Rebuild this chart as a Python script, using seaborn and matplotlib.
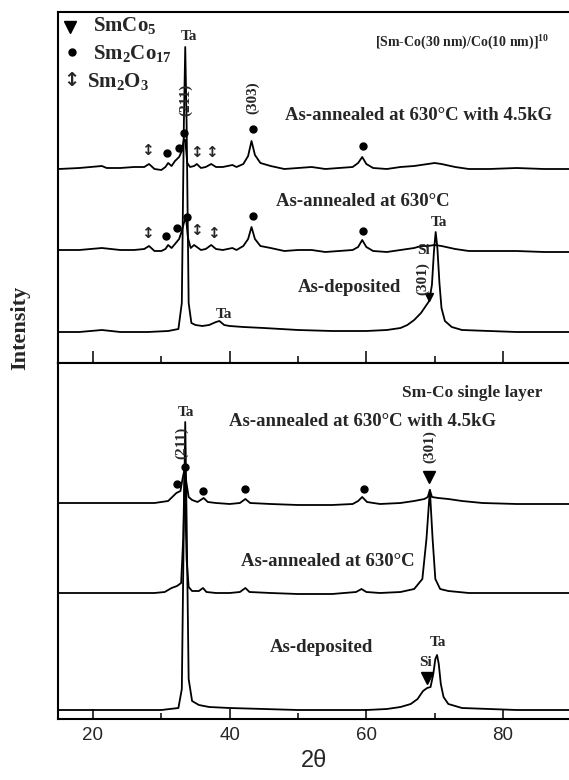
import numpy as np
import pandas as pd
import matplotlib
matplotlib.use("Agg")
import matplotlib.pyplot as plt
import seaborn as sns

# ---------------- data ----------------
# Top panel: [Sm-Co(30 nm)/Co(10 nm)]10 multilayer
ml_mag_theta = [15, 18, 21.3, 22, 24, 26, 27.5, 28.2, 29, 30, 30.6, 31.0, 31.5, 32.0, 32.6, 33.0, 33.3,
                33.5, 33.8, 34.2, 34.8, 35.2, 35.8, 36.5, 37.3, 38.0, 39, 40.4, 41, 42, 42.7, 43.2, 43.7,
                44.5, 46, 48, 50, 52, 54, 56, 58, 58.8, 59.4, 60.0, 61, 63, 65, 67, 69, 70, 71, 73, 75,
                78, 82, 86, 90]
ml_mag_int = [194, 195, 197, 195, 195, 196, 196, 199, 194, 193, 196, 200, 197, 202, 206, 212, 224,
              223, 200, 196, 197, 199, 195, 196, 199, 196, 196, 198, 196, 199, 207, 222, 208,
              200, 197, 194, 195, 196, 194, 195, 196, 200, 206, 199, 195, 194, 196, 197, 199, 200, 199, 196, 194,
              194, 195, 194, 194]

ml_ann_theta = [15, 18, 21.3, 24, 26, 27.5, 28.2, 29, 30, 30.6, 31.0, 31.5, 32.0, 32.6, 33.0, 33.3, 33.6,
                33.9, 34.3, 34.8, 35.2, 35.8, 36.5, 37.3, 38.0, 39, 40.4, 41, 42, 42.7, 43.2, 43.7, 44.5,
                46, 48, 50, 52, 54, 56, 58, 58.8, 59.4, 60.0, 61, 63, 65, 67, 68, 69, 70, 71, 73, 75, 78,
                82, 86, 90]
ml_ann_int = [113, 113, 115, 113, 113, 114, 117, 112, 112, 114, 118, 115, 119, 124, 132, 140, 146,
              125, 115, 118, 116, 113, 114, 118, 114, 113, 115, 113, 117, 124, 136, 124, 117,
              115, 112, 113, 113, 111, 112, 113, 116, 123, 116, 112, 111, 113, 115, 117, 117, 118, 117, 114, 112, 112,
              112, 111, 111]

ml_dep_theta = [15, 18, 21.3, 24, 28, 31, 32.5, 33.0, 33.3, 33.5, 33.7, 34.0, 34.4, 35, 36, 37, 38.0, 38.5,
                39.2, 40, 42, 45, 50, 55, 60, 63, 65, 66, 67, 68, 68.8, 69.2, 69.6, 69.9, 70.15, 70.4,
                70.7, 71.0, 71.5, 72.5, 74, 78, 82, 86, 90]
ml_dep_int = [31, 31, 33, 31, 31, 32, 34, 60, 240, 316, 240, 60, 40, 38, 37, 38, 41, 42,
              38, 37, 36, 35, 33, 32, 32, 33, 35, 38, 43, 50, 58, 62, 78, 112, 131, 115,
              80, 55, 42, 36, 33, 32, 31, 31, 31]

# Bottom panel: Sm-Co single layer
sl_mag_theta = [15, 20, 25, 29, 31, 31.6, 32.2, 32.8, 33.1, 33.4, 33.7, 34.0, 34.5, 35.3, 36.2, 36.8, 38,
                40, 41.5, 42.3, 43, 46, 50, 55, 58, 58.8, 59.4, 60.1, 62, 65, 67, 68.5, 69.0, 69.3, 69.6,
                70.5, 72, 74, 77, 82, 86, 90]
sl_mag_int = [216, 216, 216, 216, 218, 222, 226, 228, 240, 250, 235, 222, 219, 217, 221, 217, 216,
              215, 216, 220, 216, 215, 214, 214, 215, 218, 222, 217, 215, 216, 218, 220, 222, 229, 222,
              221, 220, 218, 216, 215, 215, 215]

sl_ann_theta = [15, 20, 25, 29, 30.5, 31.5, 32.3, 32.9, 33.2, 33.4, 33.7, 34.0, 34.5, 35.5, 36.1, 36.6, 38,
                40, 41.5, 42.3, 42.9, 46, 50, 55, 58.5, 59.3, 60, 62, 65, 67, 68.2, 68.8, 69.3, 69.7,
                70.1, 70.8, 72, 75, 80, 85, 90]
sl_ann_int = [126, 126, 126, 126, 127, 131, 133, 136, 180, 245, 160, 132, 128, 128, 131, 127, 126,
              126, 127, 131, 127, 126, 125, 125, 127, 130, 127, 126, 127, 130, 140, 180, 229, 180,
              140, 130, 128, 126, 126, 126, 126]

sl_dep_theta = [15, 20, 25, 30, 32.5, 33.0, 33.3, 33.5, 33.7, 34.0, 34.5, 35.5, 37, 40, 45, 50, 55, 60,
                63, 65, 66.5, 67.5, 68.3, 68.9, 69.4, 69.8, 70.1, 70.35, 70.6, 70.9, 71.3, 72, 74, 78,
                82, 86, 90]
sl_dep_int = [9, 9, 9, 9, 11, 30, 200, 297, 200, 40, 18, 14, 12, 11, 10, 9, 9, 9,
              10, 12, 15, 20, 28, 31, 32, 45, 60, 64, 55, 35, 22, 15, 11, 10,
              9, 9, 9]

xticks_major = [20, 40, 60, 80]
xticks_minor = [30, 50, 70]

# ---------------- style ----------------
sns.set_style("white")
plt.rcParams["font.family"] = ["Liberation Serif", "DejaVu Sans"]
plt.rcParams["font.weight"] = "bold"
plt.rcParams["mathtext.fontset"] = "custom"
plt.rcParams["mathtext.rm"] = "Liberation Serif:bold"
plt.rcParams["mathtext.it"] = "Liberation Serif:bold:italic"
plt.rcParams["mathtext.bf"] = "Liberation Serif:bold"

W, H = 569, 780
fig = plt.figure(figsize=(W / 100, H / 100), dpi=100)
left = 58 / W
ax_top = fig.add_axes([left, 1 - 363 / H, 1 - left, (363 - 12) / H])
ax_bot = fig.add_axes([left, 1 - 719 / H, 1 - left, (719 - 363) / H])

LW = 1.3
curves_top = [(ml_mag_theta, ml_mag_int), (ml_ann_theta, ml_ann_int), (ml_dep_theta, ml_dep_int)]
curves_bot = [(sl_mag_theta, sl_mag_int), (sl_ann_theta, sl_ann_int), (sl_dep_theta, sl_dep_int)]
for ax, curves, ylim in [(ax_top, curves_top, 351), (ax_bot, curves_bot, 356)]:
    for th, it in curves:
        df = pd.DataFrame({"theta": th, "intensity": it})
        sns.lineplot(data=df, x="theta", y="intensity", ax=ax, color="black", lw=LW,
                     estimator=None, sort=False)
    ax.set_xlim(14.88, 89.66)
    ax.set_ylim(0, ylim)
    ax.set_xlabel("")
    ax.set_ylabel("")
    ax.set_yticks([])
    ax.set_xticks(xticks_major)
    ax.set_xticks(xticks_minor, minor=True)
    for s in ["left", "top", "bottom"]:
        ax.spines[s].set_visible(True)
        ax.spines[s].set_color("black")
        ax.spines[s].set_linewidth(1.5)
    ax.spines["right"].set_visible(False)
    ax.set_facecolor("white")

ax_top.tick_params(axis="x", which="major", direction="in", length=9, width=1.3,
                   bottom=True, top=False, labelbottom=False)
ax_top.tick_params(axis="x", which="minor", direction="in", length=5, width=1.3, bottom=True, top=False)
ax_bot.tick_params(axis="x", which="major", direction="in", length=7, width=1.3,
                   bottom=True, top=False, labelbottom=True, labelsize=13.5, pad=6)
ax_bot.tick_params(axis="x", which="minor", direction="in", length=4, width=1.3, bottom=True, top=False)
for lab in ax_bot.get_xticklabels():
    lab.set_fontfamily(["Liberation Sans", "DejaVu Sans"])
    lab.set_fontweight("normal")

ax_bot.set_xlabel("2θ", fontsize=17, fontweight="normal",
                  fontfamily=["Liberation Sans", "DejaVu Sans"], labelpad=4)
fig.text(20 / W, 1 - 328 / H, "Intensity", rotation=90, fontsize=16, fontweight="bold",
         ha="center", va="center")

LAB = 13.5
SYM = dict(family=["DejaVu Sans"], fontweight="bold", fontsize=11, ha="center", va="center")


def txt(ax, x, y, s, size=LAB, **kw):
    kw.setdefault("ha", "center")
    kw.setdefault("va", "center")
    ax.text(x, y, s, fontsize=size, fontweight="bold", **kw)


def dots(ax, pts):
    xs, ys = zip(*pts)
    ax.plot(xs, ys, "o", color="black", ms=5, mec="black")


def tris(ax, pts, ms=8):
    xs, ys = zip(*pts)
    ax.plot(xs, ys, "v", color="black", ms=ms, mec="black")


def arrows(ax, pts):
    for x, y in pts:
        ax.text(x, y, "↕", **SYM)


# ---- top panel annotations ----
tris(ax_top, [(16.6, 336)], ms=9)
dots(ax_top, [(16.9, 311)])
ax_top.text(16.8, 283, "↕", family=["DejaVu Sans"], fontweight="bold", fontsize=14, ha="center", va="center")
ax_top.text(20.0, 337, "SmCo$_5$", fontsize=15, fontweight="bold", ha="left", va="center")
ax_top.text(20.0, 310, "Sm$_2$Co$_{17}$", fontsize=15, fontweight="bold", ha="left", va="center")
ax_top.text(19.1, 282, "Sm$_2$O$_3$", fontsize=15, fontweight="bold", ha="left", va="center")

ax_top.text(61.3, 320, "[Sm-Co(30 nm)/Co(10 nm)]$^{10}$", fontsize=10, fontweight="bold",
            ha="left", va="center")
txt(ax_top, 34.1, 326, "Ta", size=11)
txt(ax_top, 33.5, 263, "(211)", size=11, rotation=90)
txt(ax_top, 43.4, 265, "(303)", size=11, rotation=90)
txt(ax_top, 67.6, 248, "As-annealed at 630°C with 4.5kG")
txt(ax_top, 59.5, 161, "As-annealed at 630°C")
txt(ax_top, 57.6, 75, "As-deposited")
txt(ax_top, 70.6, 140, "Ta", size=11)
txt(ax_top, 68.3, 113, "Si", size=11)
txt(ax_top, 68.3, 84, "(301)", size=11, rotation=90)
tris(ax_top, [(69.2, 66)], ms=6)
txt(ax_top, 39.2, 48, "Ta", size=11)

arrows(ax_top, [(27.9, 213), (35.1, 211), (37.4, 211), (28.0, 130), (35.1, 133), (37.6, 130)])
dots(ax_top, [(30.8, 210), (32.6, 215), (33.3, 230), (43.4, 234), (59.5, 217),
              (30.7, 127), (32.3, 135), (33.8, 146), (43.4, 147), (59.5, 132)])

# ---- bottom panel annotations ----
txt(ax_bot, 75.5, 326, "Sm-Co single layer", size=12.5)
txt(ax_bot, 33.6, 306, "Ta", size=11)
txt(ax_bot, 59.4, 297, "As-annealed at 630°C with 4.5kG")
txt(ax_bot, 32.9, 276, "(211)", size=11, rotation=90)
txt(ax_bot, 69.3, 272, "(301)", size=11, rotation=90)
tris(ax_bot, [(69.2, 242)], ms=9)
dots(ax_bot, [(32.3, 235), (33.5, 252), (36.1, 228), (42.2, 230), (59.7, 230)])
txt(ax_bot, 54.4, 157, "As-annealed at 630°C")
txt(ax_bot, 53.5, 71, "As-deposited")
txt(ax_bot, 70.5, 76, "Ta", size=11)
txt(ax_bot, 68.6, 57, "Si", size=11)
tris(ax_bot, [(68.9, 41)], ms=9)

fig.savefig("out.png", dpi=100, facecolor="white")
